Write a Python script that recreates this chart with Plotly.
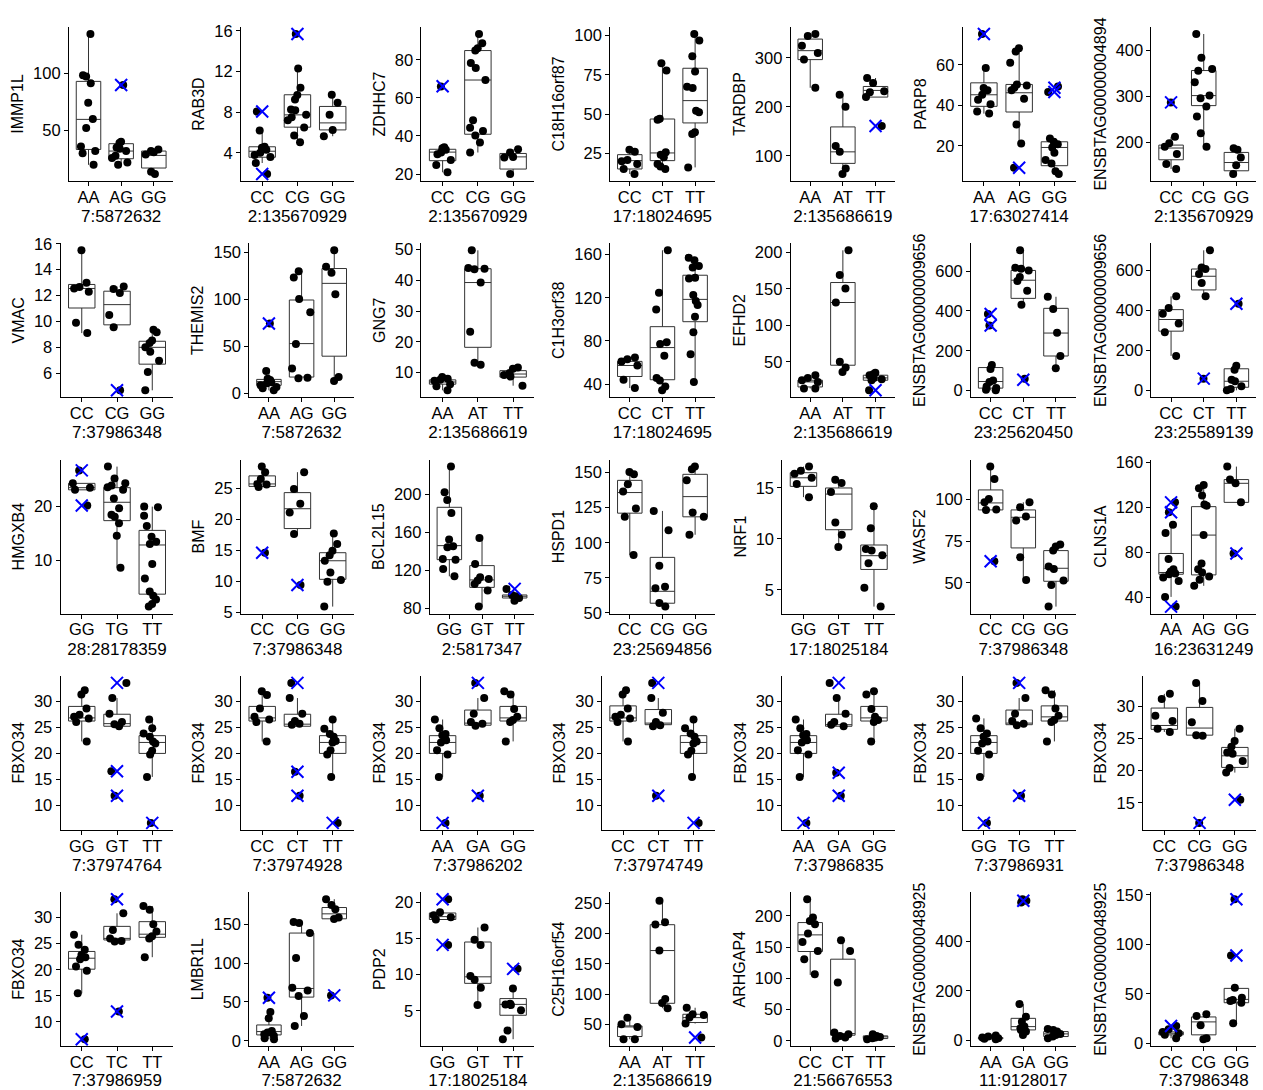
import math
import plotly.graph_objects as go

# ---------------- data ----------------
GENES = [
    "IMMP1L", "RAB3D", "ZDHHC7", "C18H16orf87", "TARDBP", "PARP8", "ENSBTAG00000004894",
    "VMAC", "THEMIS2", "GNG7", "C1H3orf38", "EFHD2", "ENSBTAG00000009656", "ENSBTAG00000009656",
    "HMGXB4", "BMF", "BCL2L15", "HSPD1", "NRF1", "WASF2", "CLNS1A",
    "FBXO34", "FBXO34", "FBXO34", "FBXO34", "FBXO34", "FBXO34", "FBXO34",
    "FBXO34", "LMBR1L", "PDP2", "C25H16orf54", "ARHGAP4", "ENSBTAG00000048925", "ENSBTAG00000048925",
]

SNPS = [
    "7:5872632", "2:135670929", "2:135670929", "17:18024695", "2:135686619", "17:63027414", "2:135670929",
    "7:37986348", "7:5872632", "2:135686619", "17:18024695", "2:135686619", "23:25620450", "23:25589139",
    "28:28178359", "7:37986348", "2:5817347", "23:25694856", "17:18025184", "7:37986348", "16:23631249",
    "7:37974764", "7:37974928", "7:37986202", "7:37974749", "7:37986835", "7:37986931", "7:37986348",
    "7:37986959", "7:5872632", "17:18025184", "2:135686619", "21:56676553", "11:9128017", "7:37986348",
]

GENOTYPES = [
    ["AA", "AG", "GG"], ["CC", "CG", "GG"], ["CC", "CG", "GG"], ["CC", "CT", "TT"], ["AA", "AT", "TT"], ["AA", "AG", "GG"], ["CC", "CG", "GG"],
    ["CC", "CG", "GG"], ["AA", "AG", "GG"], ["AA", "AT", "TT"], ["CC", "CT", "TT"], ["AA", "AT", "TT"], ["CC", "CT", "TT"], ["CC", "CT", "TT"],
    ["GG", "TG", "TT"], ["CC", "CG", "GG"], ["GG", "GT", "TT"], ["CC", "CG", "GG"], ["GG", "GT", "TT"], ["CC", "CG", "GG"], ["AA", "AG", "GG"],
    ["GG", "GT", "TT"], ["CC", "CT", "TT"], ["AA", "GA", "GG"], ["CC", "CT", "TT"], ["AA", "GA", "GG"], ["GG", "TG", "TT"], ["CC", "CG", "GG"],
    ["CC", "TC", "TT"], ["AA", "AG", "GG"], ["GG", "GT", "TT"], ["AA", "AT", "TT"], ["CC", "CT", "TT"], ["AA", "GA", "GG"], ["CC", "CG", "GG"],
]

# individual sample values per genotype group
POINTS = [
    [[134, 98, 97, 91, 74, 60, 52, 36, 32, 30, 20], [89.5, 40, 39, 35, 34, 32, 28, 26, 22, 20], [33.4, 32, 31, 29, 14, 12]],
    [[8.07, 6.2, 4.6, 4.5, 4.3, 4.0, 3.8, 3.6, 3.0, 1.92], [15.7, 12.3, 10.4, 9.7, 9.25, 8.27, 8.2, 7.75, 7.5, 7.2, 6.5, 5.7, 5.05], [9.72, 8.93, 7.74, 6.26, 5.64]],
    [[66, 34, 33.6, 32.7, 31.3, 30.4, 27.3, 24.7, 20.9], [93.6, 88.7, 86.1, 84.9, 78.3, 75.7, 69.4, 48.3, 44.3, 42.6, 40.3, 36.5, 31.3], [33, 31.3, 29, 28.7, 20]],
    [[27.4, 26.1, 20.8, 20, 18.3, 15.1, 11.9], [82.4, 77.7, 47, 46.5, 25.7, 24.2, 22.5, 18.3, 16.6, 15.1], [101, 96.8, 86.8, 77.1, 67.5, 66.7, 52.2, 51.2, 38.4, 37.4, 16.1]],
    [[349, 345, 325, 310, 297, 239], [225, 200, 120, 108, 74, 62.7], [259, 249, 232, 230, 220, 161]],
    [[75.2, 58.4, 48.5, 47.4, 45.2, 42.8, 40.5, 37, 35.9], [68.2, 66.6, 61, 50.3, 49.8, 48.7, 47.4, 43.3, 30.5, 21.1, 9.2], [49.3, 46.6, 23.6, 22, 20.8, 19.2, 16.6, 13, 11.3, 7.5, 6.1]],
    [[287, 212, 198, 190.5, 174.5, 152.7, 142], [436, 384, 360, 356, 331, 302, 296, 278, 256, 220, 190.5], [187, 184, 167, 150, 131]],
    [[15.5, 13, 12.67, 12.55, 12.3, 9.9, 9.1], [12.7, 12.5, 12.2, 10.5, 9.56, 4.68], [9.35, 9.17, 8.52, 8.34, 8.0, 7.66, 6.96, 6.1, 4.68]],
    [[74.6, 24, 15.8, 14.4, 12.7, 12, 10.9, 8.8, 7, 5.6, 3.5], [130.3, 123.6, 100.7, 86.6, 52.8, 26.8, 16.9, 16.2], [152.5, 134.9, 128.5, 105.6, 17.6, 13.4]],
    [[8.5, 8.0, 7.6, 7.3, 6.2, 5.5, 4.2], [49.8, 44, 43.8, 43.6, 39.3, 23.3, 13.2, 12.5], [11.6, 11.2, 9.8, 9.2, 8.7, 5.7]],
    [[64.6, 63, 61, 57.2, 44, 36.3], [164, 124.6, 109.2, 78.8, 77.2, 66.2, 45.5, 43.4, 37.8, 34.2], [157.2, 154.8, 149.5, 148, 138.5, 137.8, 122.5, 117, 113.2, 102.5, 88, 67.7, 41.8]],
    [[31.7, 28, 24.8, 22.5, 13.4, 13.4], [203, 169, 150.6, 131.4, 50, 42.2, 36.2], [34.9, 33, 31.7, 28, 26.2, 24.8, 11]],
    [[385, 327, 129, 109, 51, 43, 21, 13, 5, 2], [704, 617, 612, 603, 570, 550, 501, 431, 60], [471, 410, 291, 174, 112]],
    [[469, 411, 383, 334, 290, 173], [698, 613, 605, 580, 536, 469, 60], [432, 124, 104, 55, 47, 22, 9, 2]],
    [[26.7, 24.3, 23.5, 23.1, 20.2], [27.4, 25.2, 24.3, 23.9, 23.6, 23.1, 21.5, 19.7, 18.5, 18.1, 16.9, 14.6, 8.7], [20, 19.9, 18.3, 16.4, 14.4, 13.5, 13.1, 9.4, 6.7, 4.3, 3.5, 2.8, 2, 1.5]],
    [[28.5, 27.6, 26.5, 25.7, 25.6, 25.2, 14.6], [27.6, 24.9, 22.5, 21.1, 17.6, 9.4], [17.7, 16, 14.9, 14.2, 13.3, 11.4, 10.2, 9.9, 5.9]],
    [[229.6, 202.5, 194.4, 180.6, 152.5, 145.4, 144.4, 132, 131.3, 121.5, 113.7], [154.2, 126.8, 112.7, 110.9, 109.2, 105.6, 98.6, 81.7], [100.4, 94, 92.6, 90.8, 88]],
    [[150.5, 148.8, 141.7, 136.5, 124.4, 118.5, 91.2], [122.7, 109, 83.6, 68.7, 67.5, 57.1, 54.5], [154.3, 152.4, 144.5, 121.6, 118.5, 105.7]],
    [[17.1, 16.7, 16.4, 16, 15.4, 14.1], [15.8, 15.5, 14.6, 11.6, 10.4, 9.2], [13.2, 11.05, 9, 8.85, 8.4, 7.6, 5.2, 3.35]],
    [[119.8, 112.4, 100.4, 98.4, 94, 93.8, 63], [98.4, 95.4, 89.8, 87.4, 65.4, 51.8], [73, 71.8, 69.4, 59.8, 58.4, 51.4, 48.8, 35.8]],
    [[124.4, 115.6, 104.6, 97.2, 74.1, 65.2, 63.1, 61.3, 60.7, 57.8, 54.8, 40.6, 32], [139.9, 136.9, 130.4, 122.4, 121.5, 95.4, 70.2, 65.2, 62.2, 58.7, 55.7, 50.4], [156.1, 144.6, 141.3, 124.4, 79.1]],
    [[32.1, 31.3, 28.6, 27.4, 27, 26.7, 26, 22.3], [33.5, 30.6, 27.6, 26, 25.6, 25.2, 16.6, 11.9], [26.5, 24.8, 23.8, 23.2, 22.3, 21.9, 20.5, 19.8, 15.5, 6.7]],
    [[31.9, 31.2, 28.6, 27, 26.5, 26, 22.3], [33.5, 30.6, 27.6, 26.2, 25.7, 25.5, 16.5, 11.9], [26.5, 24.7, 23.7, 23.2, 22.4, 22.1, 20.6, 19.8, 15.5, 6.7]],
    [[26.5, 24.8, 23.7, 23.5, 22.5, 22.1, 20.6, 19.8, 15.5, 6.7], [33.5, 30.6, 27.6, 26, 25.7, 25.3, 11.9], [31.9, 31.3, 28.5, 27, 26.4, 26, 22.3]],
    [[32.1, 31.3, 28.6, 27.4, 27, 26.7, 26, 22.3], [33.5, 30.6, 27.8, 26, 25.4, 25.2, 11.9], [26.5, 24.8, 23.8, 23.2, 22.3, 21.9, 20.5, 19.8, 15.5, 6.7]],
    [[26.5, 24.8, 23.7, 23.5, 22.5, 22.1, 20.6, 19.8, 15.5, 6.7], [33.5, 30.6, 27.6, 26, 25.5, 25.2, 16.3, 11.9], [31.9, 31.3, 28.5, 27, 26.4, 26, 22.3]],
    [[26.7, 24.8, 23.8, 23.2, 22.3, 21.9, 20.5, 19.8, 15.5, 6.7], [33.5, 30.6, 27.6, 26.2, 25.7, 25.4, 11.9], [32.1, 31.3, 28.6, 27.2, 26.4, 26, 22.3]],
    [[31.9, 31.1, 28.5, 27.7, 26.5, 26], [33.6, 30.8, 27.5, 25.5, 25.4, 11.9], [26.5, 24.6, 23.7, 22.8, 22.6, 21.5, 20.4, 19.7, 15.5]],
    [[26.7, 24.8, 23.8, 22.8, 22.4, 22, 20.6, 19.8, 15.5, 6.7], [33.5, 30.8, 27.6, 26, 25.5, 25.4, 12], [32.2, 31.5, 28.7, 27.3, 26.4, 26, 22.4]],
    [[55.4, 37, 28.9, 12.7, 10.6, 8.5, 6.4, 3.4, 2.1], [152.6, 151.3, 138.5, 106.5, 68.2, 64.7, 57.5, 31.9, 19.1], [182, 174.7, 169.2, 158.5, 156.4, 58.4]],
    [[20.4, 18.6, 18.2, 17.9, 17.6, 14.1], [16.5, 14.8, 14.1, 9.8, 9.3, 8.2, 5.8], [10.8, 8.1, 6, 5.9, 5.8, 5.1, 2.3, 1.1]],
    [[61, 50, 45.6, 25.3, 25.3], [254.3, 219, 215.3, 172, 91.7, 85.2, 76.6], [77.4, 66.6, 65.5, 61.1, 51.2, 28]],
    [[226.7, 197.3, 192, 186.7, 171.7, 158.4, 144, 130.7, 106.7], [161, 144, 93.3, 13.3, 10.7, 8, 5.3, 3.7], [10.7, 8, 6.4, 5.3, 4.3, 2.7]],
    [[20, 16, 12, 9.3, 6.7, 5.3], [569, 563, 556, 146.7, 96, 76, 56, 49.3, 42.7, 36, 22.7], [46.7, 42.7, 36, 26.7, 22.7, 16, 9.3]],
    [[17.4, 14.1, 11.4, 10, 8.4, 5], [29.2, 27.5, 18.1, 5, 4], [145.6, 88.6, 56, 46, 43.6, 42.6, 40.9, 20.1]],
]

# box statistics per group: (lower whisker, Q1, median, Q3, upper whisker)
BOX_STATS = [
    [(20, 33.4, 59.6, 92.7, 134), (20, 25.3, 32, 38.4, 40), (12, 17.2, 28.2, 32, 33.4)],
    [(3.0, 3.57, 4.16, 4.6, 6.2), (5.05, 6.53, 7.74, 9.72, 12.3), (5.64, 6.26, 6.95, 8.57, 9.72)],
    [(20.9, 27, 31.5, 33, 34), (31.3, 40.9, 69.4, 84.9, 93.6), (20, 22.6, 29, 30.8, 33)],
    [(11.9, 15.1, 20.4, 24.2, 27.4), (15.1, 20.4, 25.3, 46.9, 82.4), (16.1, 44.4, 58.6, 79.2, 101)],
    [(239, 296.6, 314.9, 338.6, 349), (62.7, 84.4, 108, 159, 226), (220, 220, 233.6, 241.7, 259)],
    [(35.9, 39.5, 45.2, 51.1, 58.4), (21.1, 36.7, 46.2, 50.3, 68.2), (6.1, 10.2, 19.2, 22, 23.6)],
    [(142, 162, 187.6, 194, 212), (190.5, 280, 301.8, 356.4, 436), (131, 138, 156, 178, 187)],
    [(9.1, 11.04, 12.55, 12.86, 15.5), (9.56, 9.74, 11.3, 12.34, 12.7), (4.68, 6.7, 8.0, 8.47, 9.35)],
    [(3.5, 8.8, 12.7, 15.1, 24), (16.2, 17.6, 53.2, 99.6, 130.3), (13.4, 39.8, 117.3, 133.1, 152.5)],
    [(4.2, 6.2, 6.9, 7.6, 8.5), (12.5, 18.2, 39.3, 43.8, 49.8), (5.7, 8.5, 9.5, 10.6, 11.6)],
    [(36.3, 47, 57.2, 61, 64.6), (34.2, 44, 73.8, 93.2, 164), (41.8, 97.8, 118.5, 140.9, 157.2)],
    [(13.4, 15.6, 22.5, 24.8, 31.7), (36.2, 45.4, 131.4, 158.8, 203), (24.8, 24.8, 28, 31.7, 34.9)],
    [(2, 13, 46, 116, 129), (431, 463, 554, 603, 704), (112, 174, 289, 413, 471)],
    [(173, 296, 354, 403, 469), (465, 501, 569, 605, 698), (2, 17, 47, 109, 124)],
    [(23.1, 23.1, 23.5, 24.3, 24.3), (8.7, 17.4, 20.8, 23.5, 27.4), (1.5, 3.8, 12.9, 15.6, 20)],
    [(25.2, 25.3, 25.7, 27, 28.5), (17.6, 18.5, 21.7, 24.3, 27.6), (5.9, 10.3, 13.3, 14.6, 17.7)],
    [(113.7, 131.3, 146.1, 186.6, 229.6), (81.7, 102, 109.9, 125, 154.2), (88, 90.8, 92.6, 94, 94)],
    [(91.2, 121.1, 135.8, 144.5, 150.5), (54.5, 56.9, 65.4, 89.6, 122.7), (105.7, 118.5, 132.9, 148.8, 154.3)],
    [(14.1, 15.16, 16, 16.5, 17.1), (9.2, 10.9, 14.4, 15, 15.8), (3.35, 7, 8.35, 9.4, 13.2)],
    [(93.8, 93.8, 98, 105.8, 119.8), (51.8, 71, 89.4, 93.8, 98.4), (35.8, 51, 58.8, 69.4, 73)],
    [(40.6, 60.7, 62.2, 79.1, 104.6), (50.4, 60.1, 95.4, 120.6, 139.9), (124.4, 124.4, 141.3, 144.6, 156.1)],
    [(22.3, 26.2, 26.8, 29, 32.1), (25.2, 25.2, 25.7, 27.5, 30.6), (15.5, 20, 22.1, 23.4, 26.5)],
    [(22.3, 26.2, 26.8, 29, 31.9), (25.2, 25.2, 25.6, 27.5, 30.6), (15.5, 20, 22.1, 23.4, 26.5)],
    [(15.5, 20, 22.1, 23.4, 26.5), (25.3, 25.4, 25.8, 28.3, 30.6), (22.3, 26.2, 26.8, 29, 31.9)],
    [(22.3, 26.2, 26.8, 29.1, 32.1), (25.2, 25.5, 25.8, 28.4, 30.6), (15.5, 20, 22.1, 23.4, 26.5)],
    [(15.5, 20, 22.1, 23.4, 26.5), (25.2, 25.2, 25.5, 27.5, 30.6), (22.3, 26.2, 26.8, 29, 31.9)],
    [(15.5, 20, 22.1, 23.4, 26.7), (25.4, 25.5, 25.8, 28.3, 30.6), (22.3, 26.2, 27, 29.1, 32.1)],
    [(26, 26.4, 27, 29.7, 31.9), (25.4, 25.5, 26.6, 29.8, 33.6), (19.7, 20.5, 22.3, 23.6, 26.5)],
    [(15.5, 20.1, 22.2, 23.5, 26.7), (25.4, 25.7, 26, 28.3, 30.8), (22.4, 26.2, 26.8, 29.2, 32.2)],
    [(2.1, 7.6, 11.9, 20.4, 37), (19.1, 56.2, 67.3, 138.5, 152.6), (155.5, 156.8, 163.2, 171.3, 182)],
    [(17.6, 17.6, 18, 18.5, 18.6), (5.8, 8.8, 9.7, 14.5, 16.5), (1.1, 4.4, 5.9, 6.7, 8.1)],
    [(25.3, 29.7, 46, 47.3, 61), (76.6, 84.7, 172, 214.8, 257), (51.2, 52.9, 61, 66.6, 77.4)],
    [(105.6, 143, 169.6, 189.3, 226.7), (3.7, 9.1, 11.7, 130.7, 161), (2.7, 3.7, 6.4, 8, 10.7)],
    [(5.3, 6.7, 9.3, 12, 20), (22.7, 42.7, 56, 89.3, 146.7), (9.3, 16, 26.7, 36, 46.7)],
    [(5, 8.4, 10, 11.4, 14.1), (4, 8.4, 21.5, 26.5, 29.2), (20.1, 40.9, 44.3, 55.4, 56)],
]

# highlighted samples (blue crosses): (genotype, value)
CROSSES = [
    [("AG", 89.5)], [("CC", 8.07), ("CC", 1.92), ("CG", 15.7)], [("CC", 66.1)], [], [("TT", 161)],
    [("AA", 75.2), ("AG", 9.2), ("GG", 48.7), ("GG", 46.6)], [("CC", 287)],
    [("CG", 4.68)], [("AA", 74.6)], [], [], [("TT", 11)], [("CC", 385), ("CC", 327), ("CT", 55)], [("CT", 60), ("TT", 432)],
    [("GG", 26.7), ("GG", 20.2)], [("CC", 14.6), ("CG", 9.4)], [("TT", 100.4)], [], [], [("CC", 63)],
    [("AA", 124.4), ("AA", 115.6), ("AA", 32), ("GG", 79.1)],
    [("GT", 33.5), ("GT", 16.6), ("GT", 11.9), ("TT", 6.7)], [("CT", 33.5), ("CT", 16.5), ("CT", 11.9), ("TT", 6.7)],
    [("AA", 6.7), ("GA", 33.5), ("GA", 11.9)], [("CT", 33.5), ("CT", 11.9), ("TT", 6.7)],
    [("AA", 6.7), ("GA", 33.5), ("GA", 16.3), ("GA", 11.9)], [("GG", 6.7), ("TG", 33.5), ("TG", 11.9)],
    [("CG", 11.9), ("GG", 15.5)],
    [("CC", 6.7), ("TC", 33.5), ("TC", 12)], [("AA", 55.4), ("GG", 58.4)], [("GG", 20.4), ("GG", 14.1), ("TT", 10.8)],
    [("TT", 28)], [], [("GA", 563)], [("CC", 17.4), ("GG", 145.6), ("GG", 88.6)],
]

TICK_STEP = [
    50, 4, 20, 25, 100, 20, 100,
    2, 50, 10, 40, 50, 200, 200,
    10, 5, 40, 25, 5, 25, 40,
    5, 5, 5, 5, 5, 5, 5,
    5, 50, 5, 50, 50, 200, 50,
]

# ---------------- figure ----------------
W, H = 1263, 1090
NCOL = 7
COLW = W / NCOL
ROWH = 216.3
FONT = "Liberation Sans, Arial, Helvetica, sans-serif"

fig = go.Figure()
layout = dict(
    width=W, height=H, margin=dict(l=0, r=0, t=0, b=0, pad=0, autoexpand=False),
    paper_bgcolor="white", plot_bgcolor="white", showlegend=False,
    boxmode="overlay", font=dict(family=FONT, size=16.5, color="black"),
)

for i in range(len(GENES)):
    r, c = divmod(i, NCOL)
    sfx = "" if i == 0 else str(i + 1)
    xa, ya = "x" + sfx, "y" + sfx
    cats = GENOTYPES[i]
    stats = BOX_STATS[i]

    allv = [v for g in POINTS[i] for v in g] + [v for _, v in CROSSES[i]] + [v for s in stats for v in s]
    lo, hi = min(allv), max(allv)
    pad = (hi - lo) * 0.05
    yr = [lo - pad, hi + pad]
    step = TICK_STEP[i]
    ticks = [k * step for k in range(math.ceil(yr[0] / step), math.floor(yr[1] / step) + 1)]
    labels = [f"{t:g}" for t in ticks]
    nch = max(len(s) for s in labels)

    left = COLW * c + 44 + 8.3 * nch
    right = COLW * (c + 1) - 7
    top = 27 + ROWH * r
    bottom = 181 + ROWH * r

    axis_common = dict(
        showline=True, linecolor="black", linewidth=1, mirror=False,
        ticks="outside", ticklen=4, tickwidth=1, tickcolor="black",
        showgrid=False, zeroline=False, tickfont=dict(size=16.5, color="black"),
        fixedrange=True, automargin=False,
    )
    layout["xaxis" + sfx] = dict(
        axis_common, domain=[left / W, right / W], anchor=ya,
        type="category", categoryorder="array", categoryarray=cats,
        range=[-0.6, 2.6], ticklabelstandoff=-3,
        title=dict(text=SNPS[i], font=dict(size=17), standoff=5),
    )
    layout["yaxis" + sfx] = dict(
        axis_common, domain=[1 - bottom / H, 1 - top / H], anchor=xa,
        range=yr, tickmode="array", tickvals=ticks, ticktext=labels,
        title=dict(text=GENES[i], font=dict(size=16), standoff=5),
    )

    # boxes from the read statistics
    fig.add_trace(go.Box(
        x=cats,
        lowerfence=[s[0] for s in stats], q1=[s[1] for s in stats],
        median=[s[2] for s in stats], q3=[s[3] for s in stats],
        upperfence=[s[4] for s in stats],
        boxpoints=False, width=0.75, whiskerwidth=0,
        fillcolor="white", line=dict(color="#333333", width=1),
        xaxis=xa, yaxis=ya, hoverinfo="skip",
    ))

    # jittered samples
    px, py = [], []
    for g, vals in enumerate(POINTS[i]):
        px += [cats[g]] * len(vals)
        py += vals
    fig.add_trace(go.Box(
        x=px, y=py, boxpoints="all", jitter=0.8, pointpos=0, width=0.75,
        fillcolor="rgba(0,0,0,0)", line=dict(width=0, color="rgba(0,0,0,0)"),
        marker=dict(color="black", size=8, line=dict(width=0)),
        xaxis=xa, yaxis=ya, hoverinfo="skip",
    ))

    # highlighted samples
    if CROSSES[i]:
        fig.add_trace(go.Scatter(
            x=[g for g, _ in CROSSES[i]], y=[v for _, v in CROSSES[i]],
            mode="markers",
            marker=dict(symbol="x-thin-open", size=12, color="#0000FF",
                        line=dict(width=2, color="#0000FF")),
            xaxis=xa, yaxis=ya, hoverinfo="skip",
        ))

fig.update_layout(**layout)
fig.write_html(
    "out.html",
    config={"displayModeBar": False, "staticPlot": True},
    post_script="document.body.style.margin='0';document.body.style.overflow='hidden';",
)
